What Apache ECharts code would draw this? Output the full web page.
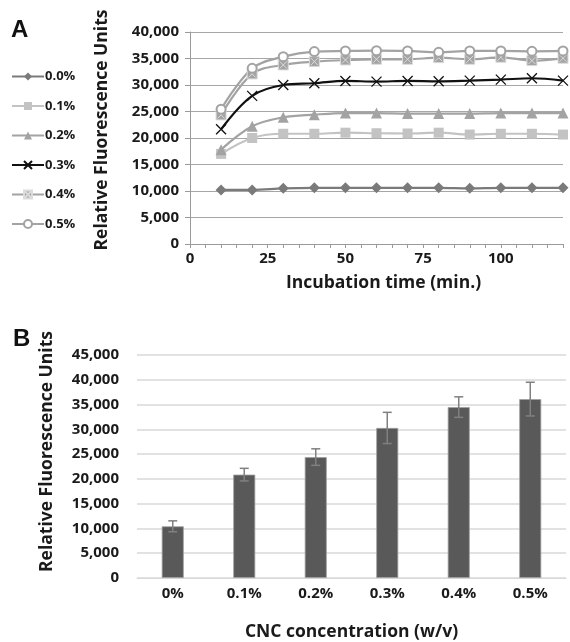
<!DOCTYPE html>
<html>
<head>
<meta charset="utf-8">
<script src="https://cdn.jsdelivr.net/npm/echarts@6/dist/echarts.min.js"></script>
<style>
  html, body { margin: 0; padding: 0; background: #fff; }
  #main { width: 570px; height: 642px; }
</style>
</head>
<body>
<div id="main"></div>
<script>
// panel A: fluorescence over time
var times = [10, 20, 30, 40, 50, 60, 70, 80, 90, 100, 110, 120];
var seriesNames = ['0.0%', '0.1%', '0.2%', '0.3%', '0.4%', '0.5%'];
var rfu00 = [10200, 10200, 10500, 10600, 10600, 10600, 10600, 10600, 10500, 10600, 10600, 10600];
var rfu01 = [17000, 20000, 20800, 20800, 21000, 20900, 20850, 21000, 20650, 20800, 20800, 20650];
var rfu02 = [17800, 22200, 23900, 24400, 24700, 24700, 24600, 24600, 24600, 24700, 24700, 24700];
var rfu03 = [21650, 27950, 30000, 30330, 30770, 30640, 30770, 30700, 30830, 31020, 31270, 30830];
var rfu04 = [24360, 32090, 33780, 34410, 34720, 34850, 34850, 35160, 34850, 35230, 34600, 35040];
var rfu05 = [25430, 33150, 35350, 36300, 36420, 36480, 36420, 36170, 36420, 36420, 36360, 36420];

// panel B: mean RFU per CNC concentration
var concLabels = ['0%', '0.1%', '0.2%', '0.3%', '0.4%', '0.5%'];
var meanRfu = [10430, 20860, 24400, 30280, 34490, 36100];
var errRfu = [1100, 1270, 1670, 3150, 2070, 3400];

var font = '"Open Sans", "DejaVu Sans", sans-serif';
var txt = '#1a1a1a';

function pairs(ys) {
  return times.map(function (t, i) { return [t, ys[i]]; });
}

var xMark = 'path://M0,0L10,10M10,0L0,10';
var boxX = 'path://M0,0H10V10H0Z M1.5,1.5L8.5,8.5M8.5,1.5L1.5,8.5';

function lineSeries(name, ys, color, symbol, size, extra) {
  var s = {
    name: name,
    type: 'line',
    xAxisIndex: 0,
    yAxisIndex: 0,
    data: pairs(ys),
    smooth: 0.35,
    symbol: symbol,
    symbolSize: size,
    lineStyle: { color: color, width: 2.2 },
    itemStyle: { color: color },
    emphasis: { disabled: true },
    z: 3
  };
  if (extra) Object.assign(s.itemStyle, extra);
  return s;
}

var chart = echarts.init(document.getElementById('main'));

var option = {
  backgroundColor: '#fff',
  animation: false,
  title: [
    { text: 'A', left: 6, top: 13, textStyle: { fontFamily: 'Liberation Sans', fontWeight: 'bold', fontSize: 24, color: '#111' } },
    { text: 'B', left: 8, top: 322, textStyle: { fontFamily: 'Liberation Sans', fontWeight: 'bold', fontSize: 24, color: '#111' } }
  ],
  legend: {
    orient: 'vertical',
    left: 6,
    top: 65,
    itemWidth: 32,
    itemHeight: 10,
    itemGap: 16.5,
    data: seriesNames,
    textStyle: { fontFamily: font, fontWeight: 'bold', fontSize: 13, color: txt, padding: [0, 0, 0, -4] }
  },
  grid: [
    { left: 190, top: 32, width: 373, height: 212 },
    { left: 137, top: 355, width: 429, height: 224 }
  ],
  xAxis: [
    {
      gridIndex: 0,
      type: 'value',
      min: 0,
      max: 120,
      interval: 25,
      name: 'Incubation time (min.)',
      nameLocation: 'middle',
      nameGap: 30,
      nameTextStyle: { fontFamily: font, fontWeight: 'bold', fontSize: 17.5, color: txt, padding: [0, 0, 0, 14] },
      axisLine: { show: true, lineStyle: { color: '#9a9a9a', width: 1 } },
      axisTick: { show: true, length: 4, lineStyle: { color: '#9a9a9a' } },
      minorTick: { show: true, splitNumber: 5, length: 4, lineStyle: { color: '#9a9a9a' } },
      splitLine: { show: false },
      axisLabel: { fontFamily: font, fontWeight: 'bold', fontSize: 15, color: txt, margin: 7, showMaxLabel: false }
    },
    {
      gridIndex: 1,
      type: 'category',
      data: concLabels,
      name: 'CNC concentration (w/v)',
      nameLocation: 'middle',
      nameGap: 45,
      nameTextStyle: { fontFamily: font, fontWeight: 'bold', fontSize: 17.5, color: txt },
      axisLine: { show: true, lineStyle: { color: '#d9d9d9', width: 1 } },
      axisTick: { show: false },
      axisLabel: { fontFamily: font, fontWeight: 'bold', fontSize: 15, color: txt, margin: 8 }
    }
  ],
  yAxis: [
    {
      gridIndex: 0,
      type: 'value',
      min: 0,
      max: 40000,
      interval: 5000,
      name: 'Relative Fluorescence Units',
      nameLocation: 'middle',
      nameGap: 79,
      nameTextStyle: { fontFamily: font, fontWeight: 'bold', fontSize: 17.5, color: txt, padding: [0, 0, 0, 16] },
      axisLine: { show: true, lineStyle: { color: '#9a9a9a', width: 1 } },
      axisTick: { show: true, length: 5, lineStyle: { color: '#9a9a9a' } },
      splitLine: { show: true, lineStyle: { color: '#a6a6a6', width: 1 } },
      axisLabel: {
        fontFamily: font, fontWeight: 'bold', fontSize: 15, color: txt, margin: 11,
        formatter: function (v) { return v.toLocaleString('en-US'); }
      }
    },
    {
      gridIndex: 1,
      type: 'value',
      min: 0,
      max: 45000,
      interval: 5000,
      name: 'Relative Fluorescence Units',
      nameLocation: 'middle',
      nameGap: 81,
      nameTextStyle: { fontFamily: font, fontWeight: 'bold', fontSize: 17.5, color: txt, padding: [0, 0, 0, 30] },
      axisLine: { show: false },
      axisTick: { show: false },
      splitLine: { show: true, lineStyle: { color: '#d9d9d9', width: 1.5 } },
      axisLabel: {
        fontFamily: font, fontWeight: 'bold', fontSize: 15, color: txt, margin: 18,
        formatter: function (v) { return v.toLocaleString('en-US'); }
      }
    }
  ],
  series: [
    lineSeries('0.0%', rfu00, '#7a7a7a', 'diamond', 11),
    lineSeries('0.1%', rfu01, '#c3c3c3', 'rect', 10),
    lineSeries('0.2%', rfu02, '#a3a3a3', 'triangle', 11),
    lineSeries('0.3%', rfu03, '#111111', xMark, 10, { borderColor: '#111', borderWidth: 1.3 }),
    lineSeries('0.4%', rfu04, '#a3a3a3', boxX, 10, { borderColor: '#dcdcdc', borderWidth: 1 }),
    lineSeries('0.5%', rfu05, '#a3a3a3', 'emptyCircle', 9, { borderColor: '#a3a3a3', borderWidth: 1.3 }),
    {
      name: 'mean',
      type: 'bar',
      xAxisIndex: 1,
      yAxisIndex: 1,
      data: meanRfu,
      barWidth: 22,
      itemStyle: { color: '#595959', borderColor: '#a0a0a0', borderWidth: 0.8 },
      emphasis: { disabled: true }
    },
    {
      name: 'error',
      type: 'custom',
      xAxisIndex: 1,
      yAxisIndex: 1,
      data: meanRfu.map(function (m, i) { return [i, m - errRfu[i], m + errRfu[i]]; }),
      renderItem: function (params, api) {
        var lo = api.coord([api.value(0), api.value(1)]);
        var hi = api.coord([api.value(0), api.value(2)]);
        var cap = 4.5;
        var st = { stroke: '#808080', lineWidth: 1.5 };
        return {
          type: 'group',
          children: [
            { type: 'line', shape: { x1: hi[0], y1: hi[1], x2: lo[0], y2: lo[1] }, style: st },
            { type: 'line', shape: { x1: hi[0] - cap, y1: hi[1], x2: hi[0] + cap, y2: hi[1] }, style: st },
            { type: 'line', shape: { x1: lo[0] - cap, y1: lo[1], x2: lo[0] + cap, y2: lo[1] }, style: st }
          ]
        };
      },
      z: 5
    }
  ]
};

chart.setOption(option);
</script>
</body>
</html>
